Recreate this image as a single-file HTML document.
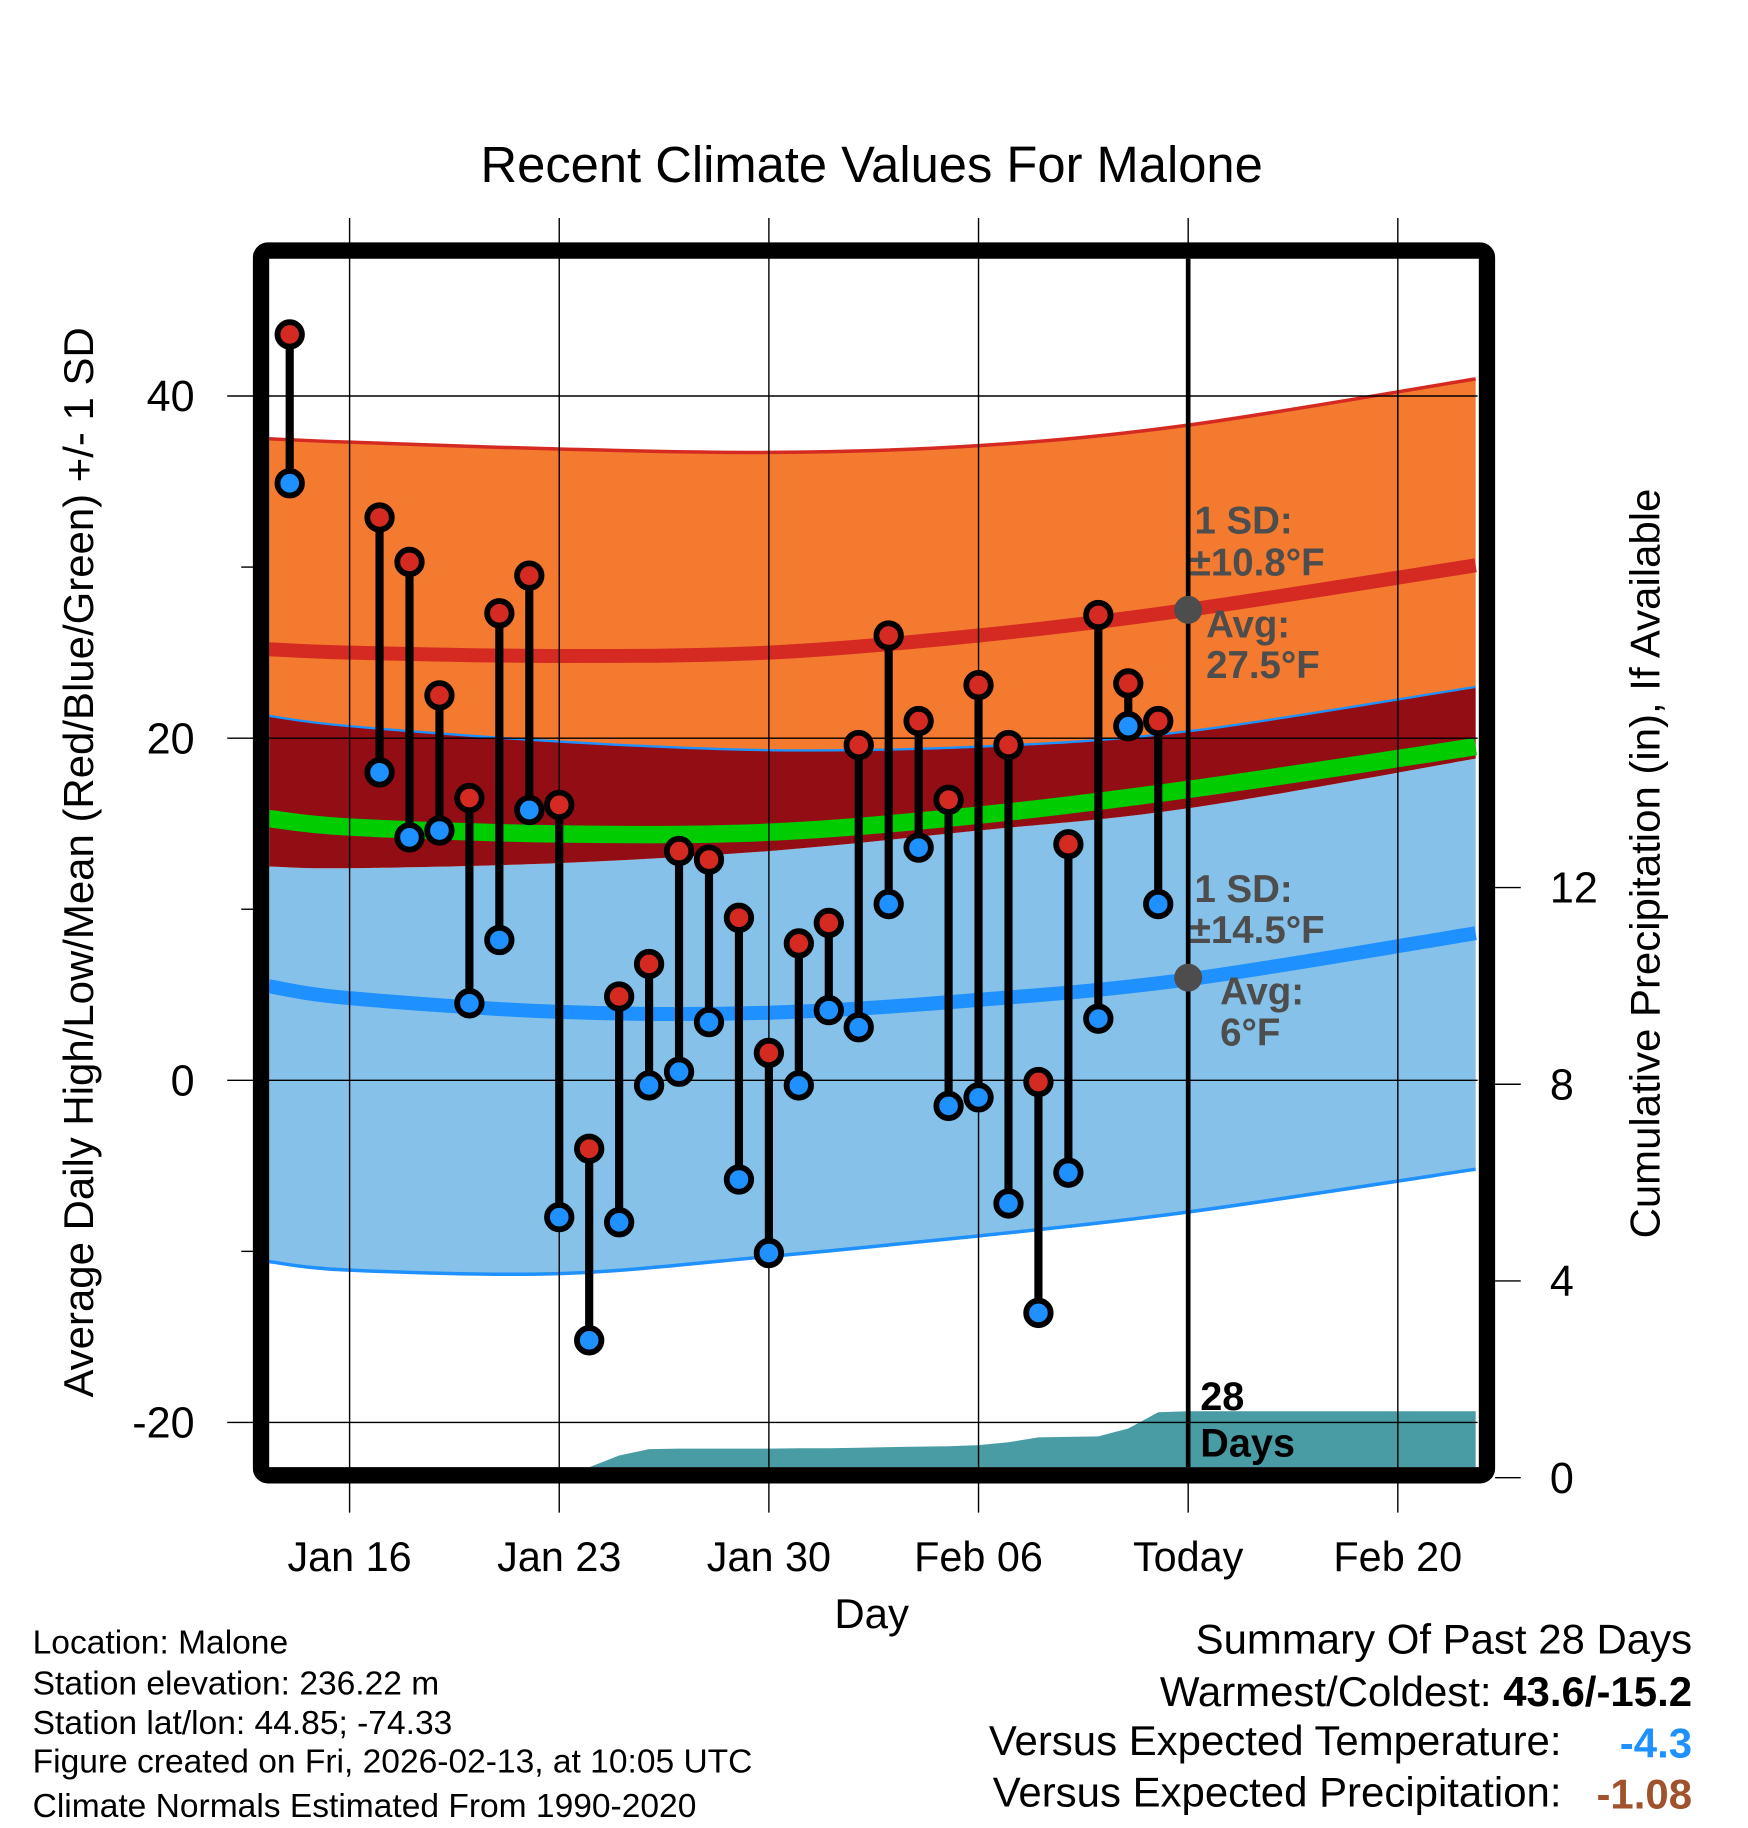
<!DOCTYPE html>
<html><head><meta charset="utf-8"><style>
html,body{margin:0;padding:0;background:#fff;}
svg{display:block;font-family:"Liberation Sans",Arial,sans-serif;}
</style></head><body>
<svg id="chart" width="1748" height="1828" viewBox="0 0 1500 1568.6" xmlns="http://www.w3.org/2000/svg">
<text x="748" y="156" font-size="43.5" text-anchor="middle">Recent Climate Values For Malone</text>
<g id="plot"></g>
</svg>
<script>
// ---- data (day offsets relative to Jan 16) ----
const obsDays = [-2,1,2,3,4,5,6,7,8,9,10,11,12,13,14,15,16,17,18,19,20,21,22,23,24,25,26,27];
const highs = [43.6,32.9,30.3,22.5,16.5,27.3,29.5,16.1,-4.0,4.9,6.8,13.4,12.9,9.5,1.6,8.0,9.2,19.6,26.0,21.0,16.4,23.1,19.6,-0.1,13.8,27.2,23.2,21.0];
const lows  = [34.9,18.0,14.2,14.6,4.5,8.2,15.8,-8.0,-15.2,-8.3,-0.3,0.5,3.4,-5.8,-10.1,-0.3,4.1,3.1,10.3,13.6,-1.5,-1.0,-7.2,-13.6,-5.4,3.6,20.7,10.3];
const normDays = [-2.7,0,7,14,21,28,37.6];
const highUpper = [37.5,37.3,36.9,36.7,37.1,38.3,41.0];
const highAvg   = [25.2,25.0,24.8,25.0,26.0,27.5,30.1];
const highLower = [21.3,20.7,19.8,19.3,19.5,20.4,23.0];
const meanAvg   = [15.3,14.8,14.4,14.5,15.5,17.0,19.5];
const lowUpper  = [12.5,12.4,12.7,13.4,14.6,15.9,18.8];
const lowAvg    = [5.5,4.8,4.0,3.95,4.7,5.9,8.6];
const lowLower  = [-10.6,-11.1,-11.3,-10.3,-9.1,-7.7,-5.2];
const precipDays = [-2.7,-2,-1,0,1,2,3,4,5,6,7,8,9,10,11,12,13,14,15,16,17,18,19,20,21,22,23,24,25,26,27,28,37.6];
const precipCum  = [0.2,0.2,0.2,0.2,0.2,0.2,0.2,0.2,0.2,0.2,0.2,0.21,0.45,0.58,0.59,0.59,0.59,0.59,0.6,0.6,0.61,0.62,0.63,0.64,0.66,0.72,0.82,0.83,0.84,1.0,1.33,1.35,1.35];
const yTicks = [40,20,0,-20];
const yMinor = [30,10,-10];
const pTicks = [0,4,8,12];
const xTickDays = [0,7,14,21,28,35];
const xTickLabels = ["Jan 16","Jan 23","Jan 30","Feb 06","Today","Feb 20"];

// ---- axes ----
const X = d => 300 + d*25.7;
const Y = v => 927 - v*14.68;
const P = p => 1268 - p*42.2;
const L = 231, R = 1268, T = 222, B = 1259;
const NS = "http://www.w3.org/2000/svg";
const g = document.getElementById('plot');
function el(tag, attrs, parent){const e=document.createElementNS(NS,tag);for(const k in attrs)e.setAttribute(k,attrs[k]);(parent||g).appendChild(e);return e;}
function pts(days, vals){return days.map((d,i)=>[X(d),Y(vals[i])]);}
// Catmull-Rom smoothed segments (without initial M)
function smooth(p){
  let s='';
  for(let i=0;i<p.length-1;i++){
    const p0=p[Math.max(i-1,0)],p1=p[i],p2=p[i+1],p3=p[Math.min(i+2,p.length-1)];
    const c1=[p1[0]+(p2[0]-p0[0])/6,p1[1]+(p2[1]-p0[1])/6];
    const c2=[p2[0]-(p3[0]-p1[0])/6,p2[1]-(p3[1]-p1[1])/6];
    s+='C'+c1[0].toFixed(1)+','+c1[1].toFixed(1)+' '+c2[0].toFixed(1)+','+c2[1].toFixed(1)+' '+p2[0].toFixed(1)+','+p2[1].toFixed(1);
  }
  return s;
}
function curvePath(vals){const p=pts(normDays,vals);return 'M'+p[0][0]+','+p[0][1]+smooth(p);}
function bandPath(top,bot){
  const a=pts(normDays,top), b=pts(normDays,bot).reverse();
  return 'M'+a[0][0]+','+a[0][1]+smooth(a)+'L'+b[0][0]+','+b[0][1]+smooth(b)+'Z';
}

const clip = el('clipPath',{id:'pc'}); el('rect',{x:L,y:T,width:R-L,height:B-T},clip);
const inner = el('g',{'clip-path':'url(#pc)'});

let e;
e = el('path',{d:bandPath(lowUpper,lowLower),fill:'#85c1e8'},inner);
 
e = el('path',{d:bandPath(highLower,lowUpper),fill:'#930d14'},inner);
 
e = el('path',{d:bandPath(highUpper,highLower),fill:'#f47a2f'},inner);
 
el('path',{d:curvePath(highUpper),fill:'none',stroke:'#d42a22','stroke-width':3},inner);
el('path',{d:curvePath(highLower),fill:'none',stroke:'#1e90ff','stroke-width':2},inner);
el('path',{d:curvePath(lowLower),fill:'none',stroke:'#1e90ff','stroke-width':3},inner);
e = el('path',{d:curvePath(highAvg),fill:'none',stroke:'#d42a22','stroke-width':12},inner);
 
e = el('path',{d:curvePath(meanAvg),fill:'none',stroke:'#00cc00','stroke-width':15},inner);
 
e = el('path',{d:curvePath(lowAvg),fill:'none',stroke:'#1e90ff','stroke-width':12},inner);
 

// precipitation area
let pp = 'M'+X(precipDays[0])+','+P(0);
precipDays.forEach((d,i)=>{pp+='L'+X(d).toFixed(1)+','+P(precipCum[i]).toFixed(1);});
pp += 'L'+X(precipDays[precipDays.length-1])+','+P(0)+'Z';
e = el('path',{d:pp,fill:'#4a9ca4'},inner);
 

// grid
xTickDays.forEach((d,i)=>{
  el('line',{x1:X(d),x2:X(d),y1:187,y2:1298,stroke:'#000','stroke-width':1.2});
  const t = el('text',{x:X(d),y:1348,'font-size':35.5,'text-anchor':'middle'});
  t.textContent = xTickLabels[i];
   
});
yTicks.forEach(v=>{
  el('line',{x1:195,x2:R,y1:Y(v),y2:Y(v),stroke:'#000','stroke-width':1.2});
  const t = el('text',{x:167,y:Y(v)+13,'font-size':37,'text-anchor':'end'});
  t.textContent = v;
   
});
yMinor.forEach(v=>{el('line',{x1:207,x2:220,y1:Y(v),y2:Y(v),stroke:'#000','stroke-width':1.2});});
pTicks.forEach(p=>{
  el('line',{x1:1283,x2:1305,y1:P(p),y2:P(p),stroke:'#000','stroke-width':1.2});
  const t = el('text',{x:1330,y:P(p)+13,'font-size':37});
  t.textContent = p;
   
});

// today line
e = el('line',{x1:X(28),x2:X(28),y1:T,y2:B,stroke:'#000','stroke-width':4});
 

// annotations
el('circle',{cx:X(28),cy:Y(27.5),r:12,fill:'#4d4d4d'});
el('circle',{cx:X(28),cy:Y(6),r:12,fill:'#4d4d4d'});
const ann = [["1 SD:",1025,458],["±10.8°F",1021,494],["Avg:",1035,547],["27.5°F",1035,582],["1 SD:",1025,774],["±14.5°F",1021,809],["Avg:",1047,862],["6°F",1047,897]];
ann.forEach(a=>{const t=el('text',{x:a[1],y:a[2],'font-size':33,'font-weight':'bold',fill:'#4d4d4d'});t.textContent=a[0];
 });
e = el('text',{x:1030,y:1210,'font-size':34,'font-weight':'bold'}); e.textContent='28';
 
e = el('text',{x:1030,y:1250,'font-size':34,'font-weight':'bold'}); e.textContent='Days';
 

// observations
obsDays.forEach((d,i)=>{
  const x = X(d);
  el('line',{x1:x,x2:x,y1:Y(highs[i]),y2:Y(lows[i]),stroke:'#000','stroke-width':7});
  const c1 = el('circle',{cx:x,cy:Y(highs[i]),r:10.5,fill:'#d42a22',stroke:'#000','stroke-width':5});
   
  const c2 = el('circle',{cx:x,cy:Y(lows[i]),r:10.5,fill:'#1e90ff',stroke:'#000','stroke-width':5});
   
});

// frame
e = el('rect',{x:224,y:215,width:1052,height:1051,rx:6,fill:'none',stroke:'#000','stroke-width':14});
 

// axis titles
e = el('text',{x:0,y:0,'font-size':36,'text-anchor':'middle',transform:'translate(80,740) rotate(-90)'});
e.textContent='Average Daily High/Low/Mean (Red/Blue/Green) +/- 1 SD';
 
e = el('text',{x:0,y:0,'font-size':36,'text-anchor':'middle',transform:'translate(1424,741) rotate(-90)'});
e.textContent='Cumulative Precipitation (in), If Available';
 
e = el('text',{x:748,y:1397,'font-size':36,'text-anchor':'middle'}); e.textContent='Day';
 

// footer
const info = ["Location: Malone","Station elevation: 236.22 m","Station lat/lon: 44.85; -74.33","Figure created on Fri, 2026-02-13, at 10:05 UTC","Climate Normals Estimated From 1990-2020"];
const infoY = [1419,1454,1488,1521,1559];
info.forEach((s,i)=>{const t=el('text',{x:28,y:infoY[i],'font-size':28.8});t.textContent=s;
 });
e = el('text',{x:1452,y:1419,'font-size':36,'text-anchor':'end'}); e.textContent='Summary Of Past 28 Days';
 
e = el('text',{x:1452,y:1464,'font-size':36,'text-anchor':'end'});
e.innerHTML='Warmest/Coldest: <tspan font-weight="bold">43.6/-15.2</tspan>';
 
e = el('text',{x:1340,y:1506,'font-size':36,'text-anchor':'end'}); e.textContent='Versus Expected Temperature:';
 
e = el('text',{x:1452,y:1508,'font-size':36,'text-anchor':'end','font-weight':'bold',fill:'#1e90ff'}); e.textContent='-4.3';
 
e = el('text',{x:1340,y:1550,'font-size':36,'text-anchor':'end'}); e.textContent='Versus Expected Precipitation:';
 
e = el('text',{x:1452,y:1552,'font-size':36,'text-anchor':'end','font-weight':'bold',fill:'#a0522d'}); e.textContent='-1.08';
 
</script>
</body></html>
